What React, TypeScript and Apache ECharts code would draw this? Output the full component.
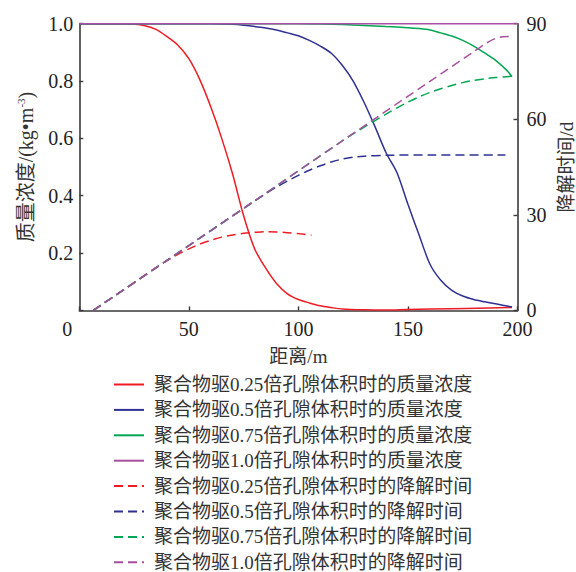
import React, { useEffect, useRef } from "react";
import * as echarts from "echarts";

// concentration (left axis, kg/m3) vs distance (m)
const conc025: [number, number][] = [
  [0, 1], [10, 1], [20, 1], [25, 0.999], [30, 0.993], [35, 0.98], [40, 0.955], [45, 0.925],
  [50, 0.878], [55, 0.805], [60, 0.71], [65, 0.6], [70, 0.475], [75, 0.33], [80, 0.215],
  [85, 0.148], [90, 0.094], [95, 0.058], [100, 0.038], [105, 0.026], [110, 0.016], [115, 0.01],
  [120, 0.005], [130, 0.002], [140, 0.001], [150, 0.003], [170, 0.006], [197.5, 0.01],
];
const conc05: [number, number][] = [
  [0, 1], [40, 1], [60, 1], [70, 0.998], [75, 0.995], [80, 0.99], [85, 0.985], [90, 0.978],
  [95, 0.968], [100, 0.958], [105, 0.942], [110, 0.922], [115, 0.897], [120, 0.855], [125, 0.8],
  [130, 0.725], [135, 0.64], [140, 0.55], [145, 0.48], [150, 0.37], [155, 0.265], [160, 0.162],
  [165, 0.105], [170, 0.07], [175, 0.05], [180, 0.038], [185, 0.03], [190, 0.023], [197.5, 0.012],
];
const conc075: [number, number][] = [
  [0, 1], [50, 1], [100, 1], [110, 0.999], [120, 0.997], [130, 0.994], [140, 0.99], [150, 0.986],
  [155, 0.983], [160, 0.978], [165, 0.968], [170, 0.957], [175, 0.942], [180, 0.922], [185, 0.898],
  [190, 0.872], [195, 0.838], [197.5, 0.815],
];
const conc10: [number, number][] = [
  [0, 1], [50, 1], [100, 1], [150, 1], [200, 1],
];

// degradation time (right axis, d) vs distance (m)
const time025: [number, number][] = [
  [6.4, 0], [20, 6.4], [35, 13.4], [40, 15.6], [45, 17.6], [50, 19.3], [55, 20.8], [60, 22.0],
  [65, 23.0], [70, 23.7], [75, 24.2], [80, 24.5], [85, 24.7], [90, 24.6], [95, 24.4],
  [100, 24.1], [106, 23.6],
];
const time05: [number, number][] = [
  [6.4, 0], [40, 15.7], [80, 34.3], [85, 36.6], [90, 38.7], [95, 40.6], [100, 42.4], [105, 44.0],
  [110, 45.4], [115, 46.6], [120, 47.5], [125, 48.1], [130, 48.4], [140, 48.7], [160, 48.8],
  [194.5, 48.8],
];
const time075: [number, number][] = [
  [6.4, 0], [40, 15.7], [80, 34.4], [120, 53.2], [125, 55.4], [130, 57.5], [135, 59.6],
  [140, 61.6], [145, 63.6], [150, 65.4], [155, 67.0], [160, 68.4], [165, 69.6], [170, 70.6],
  [175, 71.5], [180, 72.2], [185, 72.7], [190, 73.1], [197.5, 73.5],
];
const time10: [number, number][] = [
  [6.4, 0], [40, 15.7], [80, 34.4], [120, 53.2], [160, 71.9], [180, 81.2], [186, 84.0],
  [190, 85.4], [193, 85.9], [197.5, 86.0],
];

const seriesNames = [
  "聚合物驱0.25倍孔隙体积时的质量浓度",
  "聚合物驱0.5倍孔隙体积时的质量浓度",
  "聚合物驱0.75倍孔隙体积时的质量浓度",
  "聚合物驱1.0倍孔隙体积时的质量浓度",
  "聚合物驱0.25倍孔隙体积时的降解时间",
  "聚合物驱0.5倍孔隙体积时的降解时间",
  "聚合物驱0.75倍孔隙体积时的降解时间",
  "聚合物驱1.0倍孔隙体积时的降解时间",
];
const seriesData = [conc025, conc05, conc075, conc10, time025, time05, time075, time10];
const colors = ["#ed1c24", "#2e3192", "#00a651", "#a8509f"];

const FONT = '"Liberation Serif", "Noto Sans CJK SC", serif';
const AXIS_COLOR = "#3a3a3a";

export default function App() {
  const ref = useRef<HTMLDivElement>(null);
  useEffect(() => {
    const chart = echarts.init(ref.current!, null, { renderer: "svg" });
    const series = seriesData.map((d, i) => ({
      name: seriesNames[i],
      type: "line",
      yAxisIndex: i < 4 ? 0 : 1,
      data: d,
      symbol: "none",
      smooth: 0.3,
      clip: false,
      lineStyle: {
        color: colors[i % 4],
        width: 1.5,
        type: i < 4 ? "solid" : [9, 5],
      },
      itemStyle: { color: colors[i % 4] },
    }));
    chart.setOption({
      animation: false,
      grid: { left: 79.3, right: 58.5, top: 23.7, bottom: 261.6, outerBoundsMode: "none", containLabel: false },
      legend: {
        orient: "vertical",
        left: 113,
        top: 375,
        height: 230,
        padding: 0,
        itemWidth: 30,
        itemHeight: 12,
        itemGap: 6.4,
        data: seriesNames,
        itemStyle: { opacity: 0, borderWidth: 0 },
        textStyle: {
          fontSize: 19,
          fontFamily: FONT,
          color: "#333",
          lineHeight: 18,
          padding: [0, 0, 0, 5],
        },
      },
      xAxis: {
        type: "value",
        min: 0,
        max: 200,
        interval: 50,
        name: "距离/m",
        nameLocation: "middle",
        nameGap: 37,
        nameTextStyle: { fontSize: 19, fontFamily: FONT, color: "#333" },
        axisLine: { lineStyle: { color: AXIS_COLOR, width: 1.6 } },
        axisTick: { inside: true, length: 4, lineStyle: { color: AXIS_COLOR, width: 1.4 } },
        splitLine: { show: false },
        axisLabel: {
          fontSize: 20,
          fontFamily: FONT,
          color: "#222",
          margin: 9,
          formatter: (v: number) => (v === 0 ? "{o|0}" : String(v)),
          rich: { o: { fontSize: 20, fontFamily: FONT, color: "#222", padding: [0, 24, 0, 0] } },
        },
      },
      yAxis: [
        {
          type: "value",
          min: 0,
          max: 1,
          interval: 0.2,
          name: "质量浓度/(kg•m{sup|-3})",
          nameLocation: "middle",
          nameGap: 42,
          nameTextStyle: {
            fontSize: 20,
            fontFamily: FONT,
            color: "#333",
            rich: { sup: { fontSize: 11, fontFamily: FONT, color: "#333", verticalAlign: "top", lineHeight: 22 } },
          },
          axisLine: { show: true, lineStyle: { color: AXIS_COLOR, width: 1.6 } },
          axisTick: { show: true, inside: true, length: 4, lineStyle: { color: AXIS_COLOR, width: 1.4 } },
          splitLine: { show: false },
          axisLabel: {
            fontSize: 20,
            fontFamily: FONT,
            color: "#222",
            margin: 6,
            formatter: (v: number) => (v === 0 ? "" : v.toFixed(1)),
          },
        },
        {
          type: "value",
          min: 0,
          max: 90,
          interval: 30,
          position: "right",
          name: "降解时间/d",
          nameLocation: "middle",
          nameGap: 36,
          nameRotate: 90,
          nameTextStyle: { fontSize: 19, fontFamily: FONT, color: "#333" },
          axisLine: { show: true, lineStyle: { color: AXIS_COLOR, width: 1.6 } },
          axisTick: { show: true, inside: true, length: 4, lineStyle: { color: AXIS_COLOR, width: 1.4 } },
          splitLine: { show: false },
          axisLabel: { fontSize: 20, fontFamily: FONT, color: "#222", margin: 9 },
        },
      ],
      series,
    });
    return () => chart.dispose();
  }, []);
  return (
    <div
      ref={ref}
      style={{ position: "absolute", left: 0, top: 0, width: 576, height: 572, background: "#fff" }}
    />
  );
}
